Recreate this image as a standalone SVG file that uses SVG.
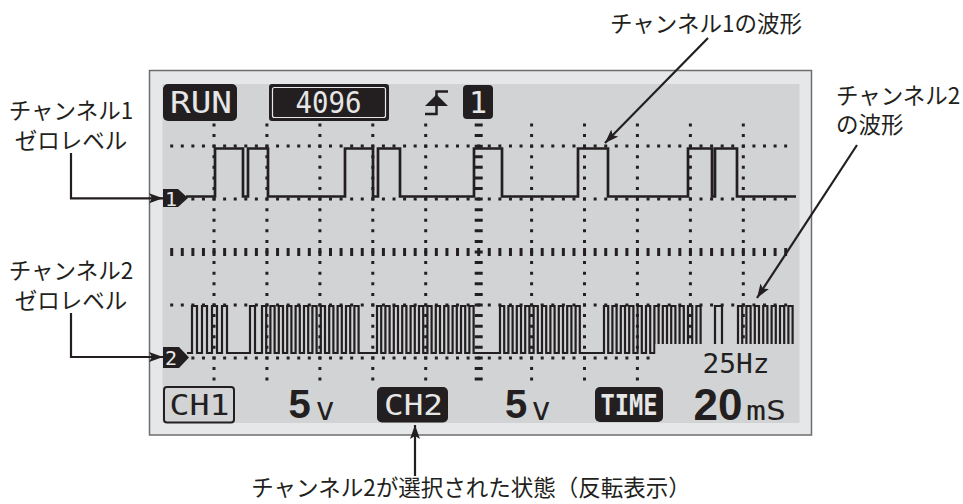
<svg xmlns="http://www.w3.org/2000/svg" width="963" height="504" viewBox="0 0 963 504">
<defs>
<style>
.lbl{font-family:"Noto Sans CJK JP","Noto Sans",sans-serif;font-size:22.5px;fill:#231f20}
.lcd{font-family:"DejaVu Sans Mono",monospace;fill:#231f20}
.inv{font-family:"DejaVu Sans Mono",monospace;fill:#e6e6e6}
.big{font-family:"Liberation Sans",Arial,sans-serif;font-weight:bold;fill:#231f20}
.blk{fill:#231f20}
.dot{stroke:#231f20;stroke-width:3;stroke-dasharray:3 7.586;fill:none}
.tick{stroke:#231f20;stroke-width:8;stroke-dasharray:3 7.586;fill:none}
.wave{stroke:#231f20;fill:none;stroke-linejoin:miter}
.lead{stroke:#231f20;stroke-width:2.2;fill:none;marker-end:url(#ah)}
</style>
<marker id="ah" viewBox="0 0 14 10" refX="14" refY="5" markerWidth="14" markerHeight="10" markerUnits="userSpaceOnUse" orient="auto">
<path d="M0,0 L14,5 L0,10 L3,5 Z" fill="#231f20"/>
</marker>
</defs>

<g id="lcd-frame">
<rect x="149.5" y="70.5" width="662" height="364.5" fill="#e6e7e8" stroke="#6d6e71" stroke-width="1.5"/>
<rect x="162.5" y="84" width="637" height="339" fill="#d1d3d4"/>
</g>

<g id="grid">
<path class="dot" d="M214 123.5V381M266.9 123.5V381M319.9 123.5V381M372.8 123.5V381M425.7 123.5V381M531.6 123.5V381M584.5 123.5V381M637.4 123.5V381M690.4 123.5V381M743.3 123.5V381"/>
<path class="dot" d="M170.2 146.1H787.1M170.2 199H787.1M170.2 305H787.1M170.2 357.9H787.1"/>
<path class="tick" d="M478.7 123.5V381"/>
<path class="tick" d="M170.2 252H787.1"/>
</g>

<g id="ch1-wave">
<path class="wave" stroke-width="2.7" d="M186 196.5H215V148.5H243V196.5H248V148.5H268V196.5H345V148.5H373V196.5H378V148.5H400V196.5H474V148.5H502V196.5H578V148.5H608V196.5H688V148.5H712V196.5H715V148.5H737V196.5H796"/>
</g>

<g id="ch2-wave">
<path class="wave" stroke-width="2.2" d="M187 353H192V306H197V353H202V306H207V353H212V306H217V353H222V306H227V353H250V306H255V353H262V306H266.2V353H270.4V306H274.6V353H278.8V306H283V353H287.2V306H291.4V353H295.6V306H299.8V353H304V306H308.2V353H312.4V306H316.6V353H320.8V306H325V353H329.2V306H333.4V353H337.6V306H341.8V353H346V306H350.2V353H354.4V306H358.6V353H377V306H381.2V353H385.4V306H389.6V353H393.8V306H398V353H402.2V306H406.4V353H410.6V306H414.8V353H419V306H423.2V353H427.4V306H431.6V353H435.8V306H440V353H444.2V306H448.4V353H452.6V306H456.8V353H461V306H465.2V353H469.4V306H473.6V353H500V306H504.2V353H508.4V306H512.6V353H516.8V306H521V353H525.2V306H529.4V353H533.6V306H537.8V353H542V306H546.2V353H550.4V306H554.6V353H558.8V306H563V353H567.2V306H571.4V353H575.6V306H579.8V353H604V306H608.2V353H612.4V306H616.6V353H620.8V306H625V353H629.2V306H633.4V353H637.6V306H641.8V353H646V306H650.2V353H654.4V306H658.6V353H662.8V306H667V353H671.2V306H675.4V353H679.6V306H683.8V353H688V306H692.2V353H696.4V306H700.6V353H715V306H722V353H738V306H742.2V353H746.4V306H750.6V353H754.8V306H759V353H763.2V306H767.4V353H771.6V306H775.8V353H780V306H784.2V353H788.4V306H792.6V353H795"/>
<rect x="655.5" y="344" width="142" height="41" fill="#d1d3d4"/>
</g>

<g id="ch1-marker">
<path class="blk" d="M163 189H178L188 198L178 207H163Z"/>
<text class="inv" x="171" y="205.5" font-size="20" text-anchor="middle">1</text>
</g>
<g id="ch2-marker">
<path class="blk" d="M163 347H179L189 357.5L179 368H163Z"/>
<text class="inv" x="171" y="365" font-size="20" text-anchor="middle">2</text>
</g>

<g id="run">
<rect class="blk" x="163" y="84" width="74" height="37" rx="5"/>
<text class="inv" x="170" y="113.3" font-size="30" textLength="62" lengthAdjust="spacingAndGlyphs">RUN</text>
</g>
<g id="count">
<rect class="blk" x="269" y="84" width="120" height="37" rx="3"/>
<rect x="272.5" y="87.5" width="113" height="30" rx="2" fill="none" stroke="#e6e6e6" stroke-width="1.2"/>
<text class="inv" x="295.5" y="113.3" font-size="30" textLength="66" lengthAdjust="spacingAndGlyphs">4096</text>
</g>
<g id="trigger">
<path d="M425 114H436.5V91.5H448" fill="none" stroke="#231f20" stroke-width="2.5"/>
<path class="blk" d="M436.5 94.5L448 106H425Z"/>
</g>
<g id="trig-ch">
<rect class="blk" x="463" y="85" width="30" height="34" rx="4"/>
<text class="inv" x="478" y="113" font-size="30" text-anchor="middle">1</text>
</g>

<g id="freq">
<text class="lcd" x="702.5" y="373.3" font-size="27" textLength="67" lengthAdjust="spacingAndGlyphs">25Hz</text>
</g>

<g id="ch1-box">
<rect x="164" y="387" width="70" height="35.5" rx="3" fill="none" stroke="#231f20" stroke-width="2"/>
<text class="lcd" x="169.5" y="415" font-size="28" textLength="60" lengthAdjust="spacingAndGlyphs">CH1</text>
</g>
<g id="ch1-volt">
<text class="big" x="288.5" y="418.3" font-size="40">5</text>
<text class="lcd" x="315.5" y="420" font-size="32">v</text>
</g>
<g id="ch2-box">
<rect class="blk" x="377" y="387" width="71" height="35.5" rx="5"/>
<text class="inv" x="384" y="415" font-size="28" textLength="59" lengthAdjust="spacingAndGlyphs">CH2</text>
</g>
<g id="ch2-volt">
<text class="big" x="505" y="418.3" font-size="40">5</text>
<text class="lcd" x="531.5" y="420" font-size="32">v</text>
</g>
<g id="time-box">
<rect class="blk" x="595" y="387" width="68" height="35" rx="5"/>
<text class="inv" x="600.5" y="415" font-size="28" font-weight="bold" textLength="57" lengthAdjust="spacingAndGlyphs">TIME</text>
</g>
<g id="timebase">
<text class="big" x="693.5" y="420" font-size="44">20</text>
<text class="lcd" x="746" y="420" font-size="26" textLength="40" lengthAdjust="spacingAndGlyphs">mS</text>
</g>

<g id="label-ch1-zero">
<text class="lbl" x="71" y="119" text-anchor="middle">チャンネル1</text>
<text class="lbl" x="71" y="148.5" text-anchor="middle">ゼロレベル</text>
</g>
<g id="label-ch2-zero">
<text class="lbl" x="71" y="279" text-anchor="middle">チャンネル2</text>
<text class="lbl" x="71" y="308.5" text-anchor="middle">ゼロレベル</text>
</g>
<g id="label-ch1-wave">
<text class="lbl" x="706" y="32" text-anchor="middle">チャンネル1の波形</text>
</g>
<g id="label-ch2-wave">
<text class="lbl" x="836" y="104" font-size="21.5">チャンネル2</text>
<text class="lbl" x="836" y="133" font-size="21.5">の波形</text>
</g>
<g id="label-select">
<text class="lbl" x="471" y="496" text-anchor="middle" font-size="26">チャンネル2が選択された状態（反転表示）</text>
</g>

<g id="connectors">
<path class="lead" d="M71 153V198.3H163"/>
<path class="lead" d="M71 313V357H163"/>
<path class="lead" d="M708 38L605 143"/>
<path class="lead" d="M857 145L757 298"/>
<path class="lead" d="M415 476V425"/>
</g>
</svg>
